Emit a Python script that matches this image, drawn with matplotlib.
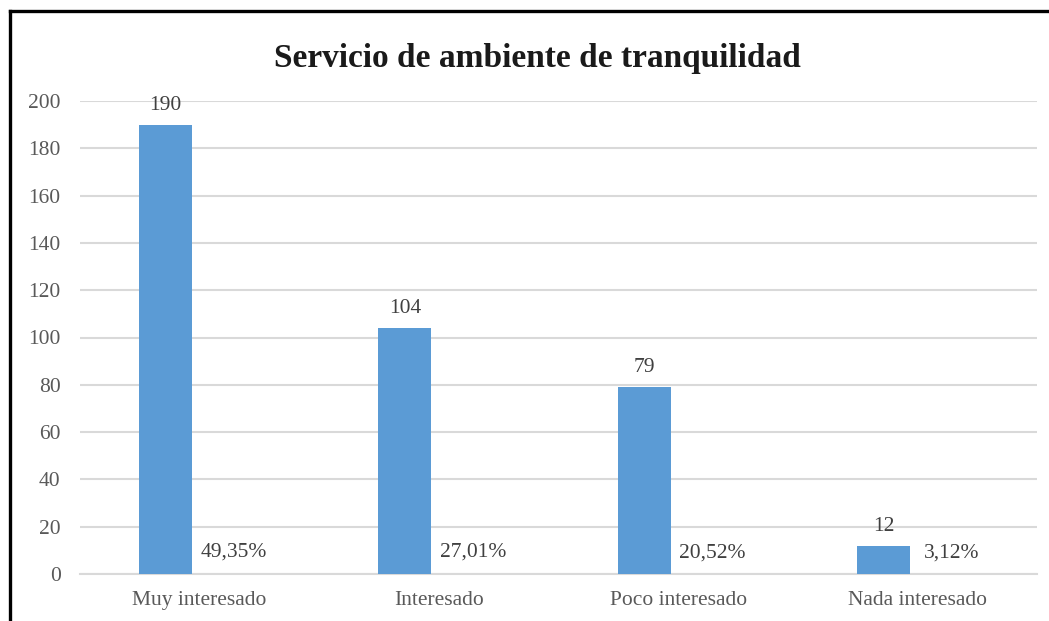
import numpy as np
import matplotlib.pyplot as plt
from matplotlib.lines import Line2D

categories = ['Muy interesado', 'Interesado', 'Poco interesado', 'Nada interesado']
counts = [190, 104, 79, 12]
percents = [49.35, 27.01, 20.52, 3.12]
yticks = [0, 20, 40, 60, 80, 100, 120, 140, 160, 180, 200]

bar_color = '#5B9BD5'
grid_color = '#D9D9D9'
tick_color = '#595959'
label_color = '#404040'


def main():
    plt.rcParams['font.family'] = ['Liberation Serif', 'DejaVu Serif']

    fig = plt.figure(figsize=(10.49, 6.21), dpi=100)
    ax = fig.add_axes([80 / 1049, 1 - 574 / 621, 957 / 1049, 473 / 621])

    x = np.arange(len(categories))
    offset = 0.142
    width = 0.222

    bars = ax.bar(x - offset, counts, width, color=bar_color, zorder=3)
    for rect, v in zip(bars, counts):
        ax.annotate(str(v), (rect.get_x() + rect.get_width() / 2, v),
                    xytext=(0, 14), textcoords='offset points',
                    ha='center', va='center', fontsize=15.5, color=label_color)

    # second series (share) is tiny on this scale, only its labels show
    for xi, p in zip(x, percents):
        ax.annotate(f'{p:.2f}%'.replace('.', ','), (xi + offset, p / 100),
                    xytext=(0, 15), textcoords='offset points',
                    ha='center', va='center', fontsize=15.5, color=label_color)

    ax.set_xlim(-0.5, len(categories) - 0.5)
    ax.set_ylim(0, 200)
    ax.set_yticks(yticks)
    ax.set_xticks(x)
    ax.set_xticklabels(categories)
    ax.tick_params(axis='both', length=0, labelsize=15.5, labelcolor=tick_color)
    ax.tick_params(axis='y', pad=14)
    ax.tick_params(axis='x', pad=12)
    ax.yaxis.grid(True, color=grid_color, linewidth=1.5, zorder=0)
    ax.set_axisbelow(True)
    for side in ['top', 'right', 'left']:
        ax.spines[side].set_visible(False)
    ax.spines['bottom'].set_color(grid_color)
    ax.spines['bottom'].set_linewidth(1.5)

    fig.text(537 / 1049, 1 - 58 / 621, 'Servicio de ambiente de tranquilidad',
             ha='center', va='center', fontsize=24, fontweight='bold', color='#1a1a1a')

    # outer frame (left and top edges only visible)
    fig.add_artist(Line2D([10 / 1049, 10 / 1049], [0, 1 - 11 / 621],
                          transform=fig.transFigure, color='black', linewidth=2.4))
    fig.add_artist(Line2D([10 / 1049, 1], [1 - 11 / 621, 1 - 11 / 621],
                          transform=fig.transFigure, color='black', linewidth=2.4))

    fig.savefig('out.png', dpi=100)


if __name__ == '__main__':
    main()
